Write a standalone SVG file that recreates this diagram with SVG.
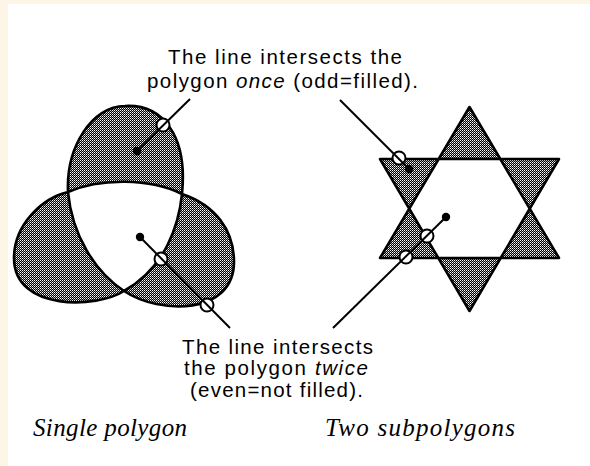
<svg xmlns="http://www.w3.org/2000/svg" width="590" height="466" viewBox="0 0 590 466">
<style>
.shape{fill:url(#halftone);fill-rule:evenodd;stroke:#000;stroke-width:2.6;stroke-linejoin:round}
.conn{stroke:#000;stroke-width:2;fill:none}
.hit{fill:#fff;stroke:#000;stroke-width:2}
.dot{fill:#000}
.lbl{font-family:"Liberation Sans",Arial,sans-serif;font-size:20.5px;fill:#000;text-anchor:middle}
.it{font-style:italic}
.cap{font-family:"Liberation Serif","Times New Roman",serif;font-style:italic;font-size:25px;fill:#000}
</style>
<defs>
<pattern id="halftone" width="2" height="2" patternUnits="userSpaceOnUse">
<rect width="2" height="2" fill="#000"/>
<rect x="0" y="0" width="1" height="1" fill="#fff"/>
<rect x="1" y="1" width="0.8" height="0.8" fill="#fff"/>
</pattern>
</defs>
<rect width="590" height="466" fill="#FDF5E6"/>
<rect x="8" y="4" width="582" height="462" fill="#fff"/>

<g id="single-polygon">
<path class="shape" d="M68,192 C66,147 92,106 125,106 C162,104 188,135 182,194 C179,225 165,268 124,291 C98,308 14,312 14,258 C14,225 42,198 68,192 C100,178 150,178 182,194 C215,205 234,230 234,262 C234,315 160,315 124,291 C95,272 72,235 68,192 Z"/>
</g>

<g id="two-subpolygons">
<path class="shape" d="M469.5,107 L559,258 L380,258 Z M380,159 L559,159 L469.5,311 Z"/>
</g>

<g id="connectors">
<circle class="hit" cx="163" cy="125" r="6.5"/>
<line class="conn" x1="137" y1="151" x2="190" y2="99"/>
<circle class="dot" cx="137" cy="151" r="4.2"/>

<circle class="hit" cx="161" cy="259" r="6.5"/>
<circle class="hit" cx="207" cy="305" r="6.5"/>
<line class="conn" x1="140" y1="237" x2="230" y2="328"/>
<circle class="dot" cx="140" cy="237" r="4.2"/>

<circle class="hit" cx="399" cy="158" r="6.5"/>
<line class="conn" x1="340" y1="100" x2="409" y2="169"/>
<circle class="dot" cx="409" cy="169" r="4.2"/>

<circle class="hit" cx="427" cy="236" r="6.5"/>
<circle class="hit" cx="406" cy="257" r="6.5"/>
<line class="conn" x1="446" y1="217" x2="333" y2="328"/>
<circle class="dot" cx="446" cy="217" r="4.2"/>
</g>

<g id="label-odd">
<text class="lbl" x="285" y="63.5" textLength="234" lengthAdjust="spacing">The line intersects the</text>
<text class="lbl" x="282.5" y="87.5" textLength="271" lengthAdjust="spacing">polygon <tspan class="it">once</tspan> (odd=filled).</text>
</g>

<g id="label-even">
<text class="lbl" x="277.5" y="353.5" textLength="191" lengthAdjust="spacing">The line intersects</text>
<text class="lbl" x="276" y="375" textLength="184" lengthAdjust="spacing">the polygon <tspan class="it">twice</tspan></text>
<text class="lbl" x="276.5" y="396.5" textLength="173" lengthAdjust="spacing">(even=not filled).</text>
</g>

<g id="caption-left">
<text class="cap" x="33" y="436" textLength="154" lengthAdjust="spacing">Single polygon</text>
</g>
<g id="caption-right">
<text class="cap" x="325" y="436" textLength="190" lengthAdjust="spacing">Two subpolygons</text>
</g>
</svg>
